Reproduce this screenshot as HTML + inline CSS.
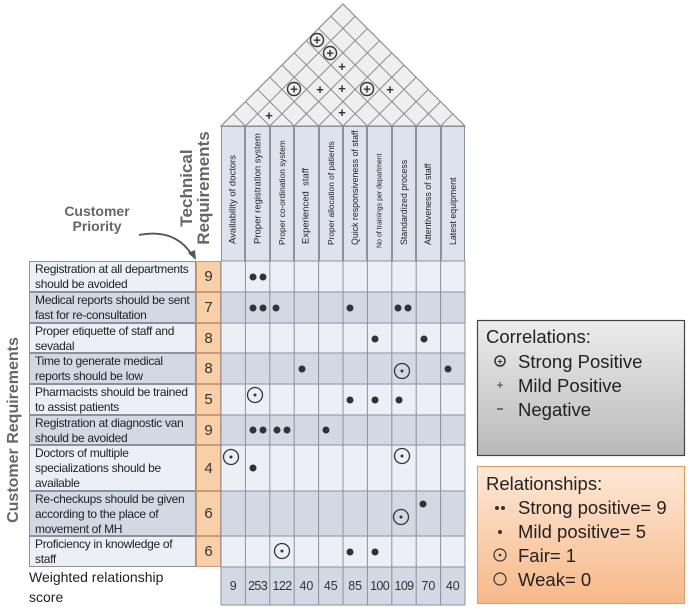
<!DOCTYPE html>
<html><head><meta charset="utf-8"><style>
body{margin:0;background:#fff;width:690px;height:610px;position:relative;overflow:hidden;font-family:"Liberation Sans",sans-serif}
.a{position:absolute;box-sizing:border-box}
.lab{left:29px;width:167px;border:1px solid #8a929e;padding:0 0 0 5px;font-size:12px;line-height:15px;color:#222;letter-spacing:-0.3px;overflow:hidden}
.pr{left:196px;width:25px;background:#f9cfa8;border:1px solid #c89a78;font-size:15px;color:#333;display:flex;align-items:center;justify-content:center}
.l{background:#eceff5}.d{background:#d2d8e4}
.hd{top:126px;height:136px;width:24.4px;background:#dde2ee;border:1px solid #8a929e}
.hd span{position:absolute;left:50%;bottom:6px;transform-origin:0 0;transform:rotate(-90deg) translate(0,-50%);white-space:nowrap;font-size:9.5px;color:#222}
</style></head><body>
<svg class="a" style="left:0;top:0" width="690" height="610">
<defs><clipPath id="c"><polygon points="221,126 343,4 465,126"/></clipPath></defs>
<polygon points="221,126 343,4 465,126" fill="#efefef" stroke="#888" stroke-width="1"/>
<g clip-path="url(#c)" stroke="#8c8c8c" stroke-width="1">
<line x1="221" y1="126" x2="343" y2="4"/><line x1="245.4" y1="126" x2="367.4" y2="4"/><line x1="269.8" y1="126" x2="391.8" y2="4"/><line x1="294.2" y1="126" x2="416.2" y2="4"/><line x1="318.6" y1="126" x2="440.6" y2="4"/><line x1="343" y1="126" x2="465" y2="4"/><line x1="367.4" y1="126" x2="489.4" y2="4"/><line x1="391.8" y1="126" x2="513.8" y2="4"/><line x1="416.2" y1="126" x2="538.2" y2="4"/><line x1="440.6" y1="126" x2="562.6" y2="4"/>
<line x1="465" y1="126" x2="343" y2="4"/><line x1="440.6" y1="126" x2="318.6" y2="4"/><line x1="416.2" y1="126" x2="294.2" y2="4"/><line x1="391.8" y1="126" x2="269.8" y2="4"/><line x1="367.4" y1="126" x2="245.4" y2="4"/><line x1="343" y1="126" x2="221" y2="4"/><line x1="318.6" y1="126" x2="196.6" y2="4"/><line x1="294.2" y1="126" x2="172.2" y2="4"/><line x1="269.8" y1="126" x2="147.8" y2="4"/><line x1="245.4" y1="126" x2="123.4" y2="4"/>
</g>
<g fill="none" stroke="#333" stroke-width="1.4">
<circle cx="317" cy="40" r="6.5"/><circle cx="330" cy="53" r="6.5"/><circle cx="294" cy="89" r="6.5"/><circle cx="367" cy="89" r="6.5"/>
</g>
<g font-size="13" fill="#333" text-anchor="middle" font-weight="bold">
<text x="317" y="44.5">+</text><text x="330" y="57.5">+</text><text x="294" y="93.5">+</text><text x="367" y="93.5">+</text>
<text x="342" y="71">+</text><text x="320" y="94">+</text><text x="342" y="93">+</text><text x="390" y="94">+</text><text x="269" y="120">+</text><text x="342" y="117">+</text>
</g>
<text transform="translate(18,430) rotate(-90)" text-anchor="middle" font-size="16" font-weight="bold" fill="#666">Customer Requirements</text>
<text transform="translate(192,188) rotate(-90)" text-anchor="middle" font-size="17" font-weight="bold" fill="#666">Technical</text>
<text transform="translate(209,188) rotate(-90)" text-anchor="middle" font-size="17" font-weight="bold" fill="#666">Requirements</text>
<text x="97" y="216" text-anchor="middle" font-size="14" font-weight="bold" fill="#666">Customer</text>
<text x="97" y="231" text-anchor="middle" font-size="14" font-weight="bold" fill="#666">Priority</text>
<path d="M139,235 Q175,228 192,255" fill="none" stroke="#555" stroke-width="1.8"/>
<polygon points="188,253 196,260 195,250" fill="#555"/>
</svg>

<div class="a hd" style="left:221px"><span>Availability of doctors</span></div>
<div class="a hd" style="left:245.4px"><span>Proper registration system</span></div>
<div class="a hd" style="left:269.8px"><span style="font-size:8.4px">Proper co-ordination system</span></div>
<div class="a hd" style="left:294.2px"><span>Experienced &nbsp;staff</span></div>
<div class="a hd" style="left:318.6px"><span style="font-size:8.4px">Proper allocation of patients</span></div>
<div class="a hd" style="left:343px"><span style="font-size:8.8px">Quick responsiveness of staff</span></div>
<div class="a hd" style="left:367.4px"><span style="font-size:7px">No of trainings per department</span></div>
<div class="a hd" style="left:391.8px"><span style="font-size:8.8px">Standardized process</span></div>
<div class="a hd" style="left:416.2px"><span style="font-size:8.8px">Attentiveness of staff</span></div>
<div class="a hd" style="left:440.6px"><span style="font-size:8.8px">Latest equipment</span></div>

<div class="a lab l" style="top:261px;height:31px">Registration at all departments should be avoided</div>
<div class="a lab d" style="top:292px;height:31px">Medical reports should be sent fast for re-consultation</div>
<div class="a lab l" style="top:323px;height:30px">Proper etiquette of staff and sevadal</div>
<div class="a lab d" style="top:353px;height:31px">Time to generate medical reports should be low</div>
<div class="a lab l" style="top:384px;height:31px">Pharmacists should be trained to assist patients</div>
<div class="a lab d" style="top:415px;height:30px">Registration at diagnostic van should be avoided</div>
<div class="a lab l" style="top:445px;height:46px">Doctors of multiple specializations should be available</div>
<div class="a lab d" style="top:491px;height:45px">Re-checkups should be given according to the place of movement of MH</div>
<div class="a lab l" style="top:536px;height:31px">Proficiency in knowledge of<br>staff</div>

<div class="a pr" style="top:261px;height:31px">9</div>
<div class="a pr" style="top:292px;height:31px">7</div>
<div class="a pr" style="top:323px;height:30px">8</div>
<div class="a pr" style="top:353px;height:31px">8</div>
<div class="a pr" style="top:384px;height:31px">5</div>
<div class="a pr" style="top:415px;height:30px">9</div>
<div class="a pr" style="top:445px;height:46px">4</div>
<div class="a pr" style="top:491px;height:45px">6</div>
<div class="a pr" style="top:536px;height:31px">6</div>

<svg class="a" style="left:0;top:0" width="690" height="610">
<g stroke="none">
<rect x="221" y="261" width="244" height="31" fill="#eceff5"/>
<rect x="221" y="292" width="244" height="31" fill="#d2d8e4"/>
<rect x="221" y="323" width="244" height="30" fill="#eceff5"/>
<rect x="221" y="353" width="244" height="31" fill="#d2d8e4"/>
<rect x="221" y="384" width="244" height="31" fill="#eceff5"/>
<rect x="221" y="415" width="244" height="30" fill="#d2d8e4"/>
<rect x="221" y="445" width="244" height="46" fill="#eceff5"/>
<rect x="221" y="491" width="244" height="45" fill="#d2d8e4"/>
<rect x="221" y="536" width="244" height="31" fill="#eceff5"/>
<rect x="221" y="567" width="244" height="38" fill="#d2d8e4"/>
</g>
<g stroke="#8a929e" stroke-width="1">
<line x1="221" y1="261" x2="465" y2="261"/><line x1="221" y1="292" x2="465" y2="292"/><line x1="221" y1="323" x2="465" y2="323"/><line x1="221" y1="353" x2="465" y2="353"/><line x1="221" y1="384" x2="465" y2="384"/><line x1="221" y1="415" x2="465" y2="415"/><line x1="221" y1="445" x2="465" y2="445"/><line x1="221" y1="491" x2="465" y2="491"/><line x1="221" y1="536" x2="465" y2="536"/><line x1="221" y1="567" x2="465" y2="567"/><line x1="221" y1="605" x2="465" y2="605"/>
<line x1="221" y1="261" x2="221" y2="605"/><line x1="245.4" y1="261" x2="245.4" y2="605"/><line x1="269.8" y1="261" x2="269.8" y2="605"/><line x1="294.2" y1="261" x2="294.2" y2="605"/><line x1="318.6" y1="261" x2="318.6" y2="605"/><line x1="343" y1="261" x2="343" y2="605"/><line x1="367.4" y1="261" x2="367.4" y2="605"/><line x1="391.8" y1="261" x2="391.8" y2="605"/><line x1="416.2" y1="261" x2="416.2" y2="605"/><line x1="440.6" y1="261" x2="440.6" y2="605"/><line x1="465" y1="261" x2="465" y2="605"/>
</g>
<g fill="#333">
<circle cx="253" cy="277" r="3.5"/><circle cx="263" cy="277" r="3.5"/>
<circle cx="253" cy="308" r="3.5"/><circle cx="263" cy="308" r="3.5"/><circle cx="276" cy="308" r="3.5"/><circle cx="350" cy="308" r="3.5"/><circle cx="398" cy="308" r="3.5"/><circle cx="408" cy="308" r="3.5"/>
<circle cx="375" cy="339" r="3.5"/><circle cx="424" cy="339" r="3.5"/>
<circle cx="302" cy="369" r="3.5"/><circle cx="448" cy="369" r="3.5"/>
<circle cx="350" cy="400" r="3.5"/><circle cx="375" cy="400" r="3.5"/><circle cx="399" cy="400" r="3.5"/>
<circle cx="253" cy="430" r="3.5"/><circle cx="263" cy="430" r="3.5"/><circle cx="277" cy="430" r="3.5"/><circle cx="287" cy="430" r="3.5"/><circle cx="326" cy="430" r="3.5"/>
<circle cx="253" cy="468" r="3.5"/>
<circle cx="423" cy="504" r="3.5"/>
<circle cx="350" cy="552" r="3.5"/><circle cx="375" cy="552" r="3.5"/>
</g>
<g fill="none" stroke="#333" stroke-width="1.3">
<circle cx="402" cy="371" r="7.5"/><circle cx="255" cy="395" r="7.5"/><circle cx="231" cy="457" r="7.5"/><circle cx="402" cy="456" r="7.5"/><circle cx="401" cy="517" r="7.5"/><circle cx="282" cy="551" r="7.5"/>
</g>
<g fill="#333">
<circle cx="402" cy="371" r="1.5"/><circle cx="255" cy="395" r="1.5"/><circle cx="231" cy="457" r="1.5"/><circle cx="402" cy="456" r="1.5"/><circle cx="401" cy="517" r="1.5"/><circle cx="282" cy="551" r="1.5"/>
</g>
<g font-size="12.5" fill="#333" text-anchor="middle">
<text x="233.2" y="590">9</text><text x="257.6" y="590" letter-spacing="-0.6">253</text><text x="282" y="590" letter-spacing="-0.6">122</text><text x="306.4" y="590">40</text><text x="330.8" y="590">45</text><text x="355.2" y="590">85</text><text x="379.6" y="590" letter-spacing="-0.6">100</text><text x="404" y="590" letter-spacing="-0.6">109</text><text x="428.4" y="590">70</text><text x="452.8" y="590">40</text>
</g>
<text x="29" y="582" font-size="14" fill="#222">Weighted relationship</text>
<text x="29" y="602" font-size="14" fill="#222">score</text>
<defs>
<linearGradient id="g1" x1="0" y1="0" x2="0" y2="1"><stop offset="0" stop-color="#ececec"/><stop offset="1" stop-color="#b9b9b9"/></linearGradient>
<linearGradient id="g2" x1="0" y1="0" x2="0" y2="1"><stop offset="0" stop-color="#fde8d6"/><stop offset="1" stop-color="#f7b889"/></linearGradient>
</defs>
<rect x="477.5" y="320.5" width="207" height="135" fill="url(#g1)" stroke="#444" stroke-width="1.2"/>
<rect x="477.5" y="466.5" width="207" height="137" fill="url(#g2)" stroke="#e09a68" stroke-width="1"/>
<g font-size="18.5" fill="#222">
<text x="486" y="343">Correlations:</text>
<text x="518" y="368">Strong Positive</text>
<text x="518" y="392">Mild Positive</text>
<text x="518" y="416">Negative</text>
<text x="486" y="490">Relationships:</text>
<text x="518" y="514">Strong positive= 9</text>
<text x="518" y="538">Mild positive= 5</text>
<text x="518" y="562">Fair= 1</text>
<text x="518" y="586">Weak= 0</text>
</g>
<circle cx="500" cy="361" r="5" fill="none" stroke="#333" stroke-width="1.5"/>
<text x="500" y="364.5" font-size="9" text-anchor="middle" font-weight="bold" fill="#333">+</text>
<text x="500" y="389" font-size="12" text-anchor="middle" fill="#333">+</text>
<line x1="497" y1="409" x2="503" y2="409" stroke="#333" stroke-width="1.2"/>
<circle cx="497" cy="508" r="2" fill="#333"/><circle cx="503" cy="508" r="2" fill="#333"/>
<circle cx="500" cy="532" r="2" fill="#333"/>
<circle cx="500" cy="555" r="6" fill="none" stroke="#333" stroke-width="1.2"/><circle cx="500" cy="555" r="1.3" fill="#333"/>
<circle cx="500" cy="579" r="6" fill="none" stroke="#333" stroke-width="1.2"/>
</svg>
</body></html>
